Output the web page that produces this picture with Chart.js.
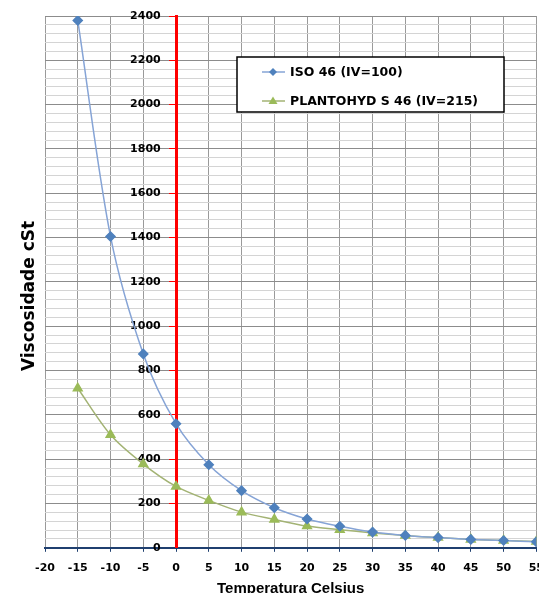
<!DOCTYPE html>
<html>
<head>
<meta charset="utf-8">
<script src="https://cdn.jsdelivr.net/npm/chart.js@4.4.0/dist/chart.umd.min.js"></script>
<style>
  html, body { margin: 0; padding: 0; background: #fff; overflow: hidden; }
  #wrap { position: absolute; left: 0; top: 0; width: 554px; height: 598px; }
</style>
</head>
<body>
<div id="wrap"><canvas id="chart"></canvas></div>
<script>
const temps = [-15, -10, -5, 0, 5, 10, 15, 20, 25, 30, 35, 40, 45, 50, 55];
const isoValues = [2380, 1405, 875, 560, 375, 258, 181, 130, 97, 71, 56, 46, 38, 33, 27];
const plantoValues = [720, 510, 378, 277, 214, 161, 128, 98, 82, 67, 55, 46, 38, 33, 28];
const seriesLabels = ['ISO 46 (IV=100)', 'PLANTOHYD S 46 (IV=215)'];
const yTitle = 'Viscosidade cSt';

const tickFont = { family: 'DejaVu Sans', size: 11, weight: 'bold' };

// legend box drawn inside the plot, like the original
const boxLegend = {
    id: 'boxLegend',
    afterDatasetsDraw(chart) {
        const ctx = chart.ctx;
        const x = 237, y = 57, w = 267, h = 55;
        ctx.save();
        ctx.fillStyle = '#ffffff';
        ctx.fillRect(x, y, w, h);
        ctx.strokeStyle = '#000000';
        ctx.lineWidth = 1.5;
        ctx.strokeRect(x, y, w, h);
        chart.data.datasets.forEach((ds, i) => {
            const ry = y + 15 + i * 29;
            ctx.strokeStyle = ds.borderColor;
            ctx.lineWidth = 1.5;
            ctx.beginPath();
            ctx.moveTo(262, ry);
            ctx.lineTo(285, ry);
            ctx.stroke();
            ctx.fillStyle = ds.pointBackgroundColor;
            ctx.beginPath();
            if (ds.pointStyle === 'rectRot') {
                ctx.moveTo(273, ry - 4); ctx.lineTo(277, ry); ctx.lineTo(273, ry + 4); ctx.lineTo(269, ry);
            } else {
                ctx.moveTo(273, ry - 4.5); ctx.lineTo(277.5, ry + 3); ctx.lineTo(268.5, ry + 3);
            }
            ctx.closePath();
            ctx.fill();
            ctx.fillStyle = '#000';
            ctx.font = 'bold 12.5px "DejaVu Sans"';
            ctx.textBaseline = 'middle';
            ctx.fillText(ds.label, 290, ry + 1);
        });
        ctx.restore();
    }
};

// vertical axis title at the far left
const sideTitle = {
    id: 'sideTitle',
    afterDraw(chart) {
        const ctx = chart.ctx;
        ctx.save();
        ctx.translate(30, 296);
        ctx.rotate(-Math.PI / 2);
        ctx.fillStyle = '#000';
        ctx.font = 'bold 17px "DejaVu Sans"';
        ctx.textAlign = 'center';
        ctx.textBaseline = 'middle';
        ctx.fillText(yTitle, 0, 0);
        ctx.restore();
    }
};

new Chart(document.getElementById('chart'), {
    type: 'line',
    data: {
        datasets: [
            {
                label: seriesLabels[0],
                data: temps.map((t, i) => ({ x: t, y: isoValues[i] })),
                borderColor: '#86a4d6',
                pointBackgroundColor: '#4f81bd',
                pointBorderColor: '#4f81bd',
                pointStyle: 'rectRot',
                pointRadius: 4.5,
                borderWidth: 1.5,
                tension: 0.3
            },
            {
                label: seriesLabels[1],
                data: temps.map((t, i) => ({ x: t, y: plantoValues[i] })),
                borderColor: '#a3b374',
                pointBackgroundColor: '#9bbb59',
                pointBorderColor: '#9bbb59',
                pointStyle: 'triangle',
                pointRadius: 5,
                borderWidth: 1.5,
                tension: 0.3
            }
        ]
    },
    options: {
        responsive: true,
        maintainAspectRatio: false,
        animation: false,
        layout: { padding: { top: 16, left: 45, right: 0 } },
        plugins: {
            legend: { display: false },
            tooltip: { enabled: false }
        },
        scales: {
            x: {
                type: 'linear',
                min: -20,
                max: 55,
                ticks: { stepSize: 5, color: '#000', font: tickFont, padding: 10 },
                grid: { color: '#9a9a9a', lineWidth: 1, tickLength: 4, tickColor: '#1f3f6f' },
                border: { color: '#1f3f6f', width: 2 },
                title: {
                    display: true,
                    text: 'Temperatura Celsius',
                    color: '#000',
                    font: { family: 'Liberation Sans', size: 15, weight: 'bold' },
                    padding: { top: -5, bottom: 0 }
                }
            },
            y: {
                type: 'linear',
                position: { x: 0 },
                min: 0,
                max: 2400,
                ticks: {
                    stepSize: 40,
                    autoSkip: false,
                    maxTicksLimit: 100,
                    color: '#000',
                    font: tickFont,
                    // labels sit right-aligned on the axis line, spaces keep them clear of it
                    callback: v => (v % 200 === 0 ? v + '    ' : '')
                },
                grid: {
                    color: c => (c.tick && c.tick.value % 200 === 0 ? '#8c8c8c' : '#d4d4d4'),
                    tickColor: c => (c.tick && c.tick.value % 200 === 0 ? '#ff0000' : 'rgba(0,0,0,0)'),
                    tickLength: 6
                },
                border: { color: '#ff0000', width: 3 }
            }
        }
    },
    plugins: [boxLegend, sideTitle]
});
</script>
</body>
</html>
